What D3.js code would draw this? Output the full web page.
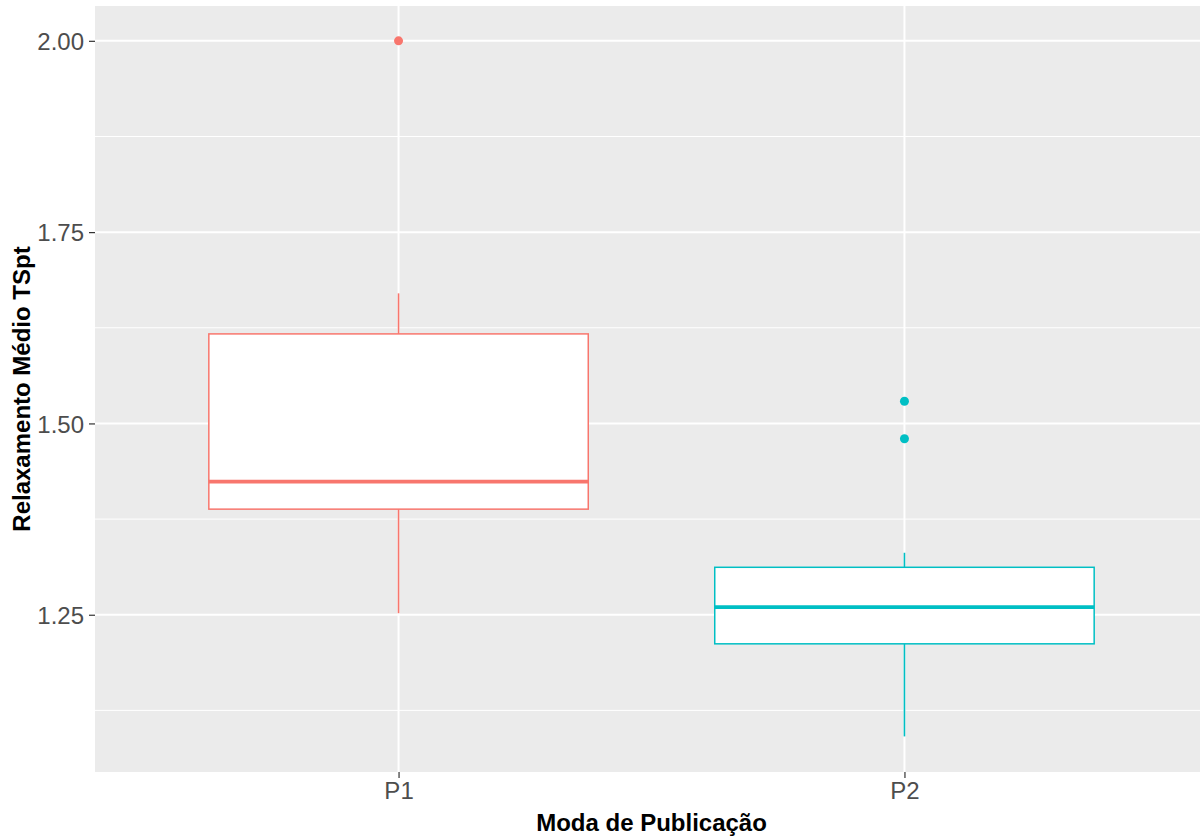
<!DOCTYPE html>
<html>
<head>
<meta charset="utf-8">
<script src="https://cdn.jsdelivr.net/npm/d3@7"></script>
<style>
  body { margin: 0; background: #fff; }
  svg { display: block; font-family: "Liberation Sans", Arial, sans-serif; }
</style>
</head>
<body>
<svg id="chart" width="1200" height="838"></svg>
<script>
// boxplot statistics
let categories = ["P1", "P2"];
let colors = ["#F8766D", "#00BFC4"];
let whiskerLow = [1.252, 1.091];
let q1 = [1.388, 1.212];
let median = [1.424, 1.260];
let q3 = [1.617, 1.312];
let whiskerHigh = [1.670, 1.331];
let outliers = [[2.00], [1.529, 1.480]];
let yTicks = [1.25, 1.50, 1.75, 2.00];
let yMinor = [1.125, 1.375, 1.625, 1.875];

let svg = d3.select("#chart");
let panel = { left: 95, right: 1208, top: 6, bottom: 772 };

let x = d3.scalePoint()
    .domain(categories)
    .range([panel.left, panel.right])
    .padding(0.6);
let boxWidth = x.step() * 0.75;

let y = d3.scaleLinear()
    .domain([1.0445, 2.0455])
    .range([panel.bottom, panel.top]);

// panel background
svg.append("rect")
    .attr("x", panel.left)
    .attr("y", panel.top)
    .attr("width", panel.right - panel.left)
    .attr("height", panel.bottom - panel.top)
    .attr("fill", "#EBEBEB");

// grid
svg.selectAll("line.minor")
    .data(yMinor).enter()
    .append("line")
    .attr("x1", panel.left).attr("x2", panel.right)
    .attr("y1", d => y(d)).attr("y2", d => y(d))
    .attr("stroke", "#fff").attr("stroke-width", 1);

svg.selectAll("line.major")
    .data(yTicks).enter()
    .append("line")
    .attr("x1", panel.left).attr("x2", panel.right)
    .attr("y1", d => y(d)).attr("y2", d => y(d))
    .attr("stroke", "#fff").attr("stroke-width", 2);

svg.selectAll("line.vgrid")
    .data(categories).enter()
    .append("line")
    .attr("x1", d => x(d)).attr("x2", d => x(d))
    .attr("y1", panel.top).attr("y2", panel.bottom)
    .attr("stroke", "#fff").attr("stroke-width", 2);

// boxes
let boxes = svg.selectAll("g.box")
    .data(categories).enter()
    .append("g");

boxes.append("line")
    .attr("x1", d => x(d)).attr("x2", d => x(d))
    .attr("y1", (d, i) => y(q3[i])).attr("y2", (d, i) => y(whiskerHigh[i]))
    .attr("stroke", (d, i) => colors[i]).attr("stroke-width", 1.6);

boxes.append("line")
    .attr("x1", d => x(d)).attr("x2", d => x(d))
    .attr("y1", (d, i) => y(q1[i])).attr("y2", (d, i) => y(whiskerLow[i]))
    .attr("stroke", (d, i) => colors[i]).attr("stroke-width", 1.6);

boxes.append("rect")
    .attr("x", d => x(d) - boxWidth / 2)
    .attr("width", boxWidth)
    .attr("y", (d, i) => y(q3[i]))
    .attr("height", (d, i) => y(q1[i]) - y(q3[i]))
    .attr("fill", "#fff")
    .attr("stroke", (d, i) => colors[i])
    .attr("stroke-width", 1.5);

boxes.append("line")
    .attr("x1", d => x(d) - boxWidth / 2).attr("x2", d => x(d) + boxWidth / 2)
    .attr("y1", (d, i) => y(median[i])).attr("y2", (d, i) => y(median[i]))
    .attr("stroke", (d, i) => colors[i]).attr("stroke-width", 3.6);

// outliers
categories.forEach((c, i) => {
    svg.selectAll(null)
        .data(outliers[i]).enter()
        .append("circle")
        .attr("cx", x(c))
        .attr("cy", d => y(d))
        .attr("r", 4.5)
        .attr("fill", colors[i]);
});

// axes
let yAxis = svg.append("g")
    .attr("transform", `translate(${panel.left},0)`)
    .call(d3.axisLeft(y).tickValues(yTicks).tickFormat(d3.format(".2f")).tickSize(6).tickPadding(5));
let xAxis = svg.append("g")
    .attr("transform", `translate(0,${panel.bottom})`)
    .call(d3.axisBottom(x).tickSize(6).tickPadding(4));

[yAxis, xAxis].forEach(a => {
    a.select(".domain").remove();
    a.selectAll(".tick line").attr("stroke", "#333").attr("stroke-width", 1.2);
    a.selectAll(".tick text")
        .attr("fill", "#4D4D4D")
        .style("font-size", "24px")
        .style("font-family", "'Liberation Sans', Arial, sans-serif");
});
yAxis.selectAll(".tick text").attr("dy", "0.36em");

// axis titles
svg.append("text")
    .attr("x", (panel.left + 1200) / 2 + 4)
    .attr("y", 831)
    .attr("text-anchor", "middle")
    .style("font-size", "24px")
    .style("font-weight", "bold")
    .attr("fill", "#000")
    .text("Moda de Publicação");

svg.append("text")
    .attr("transform", `translate(30,${(panel.top + panel.bottom) / 2}) rotate(-90)`)
    .attr("text-anchor", "middle")
    .style("font-size", "24px")
    .style("font-weight", "bold")
    .attr("fill", "#000")
    .text("Relaxamento Médio TSpt");
</script>
</body>
</html>
